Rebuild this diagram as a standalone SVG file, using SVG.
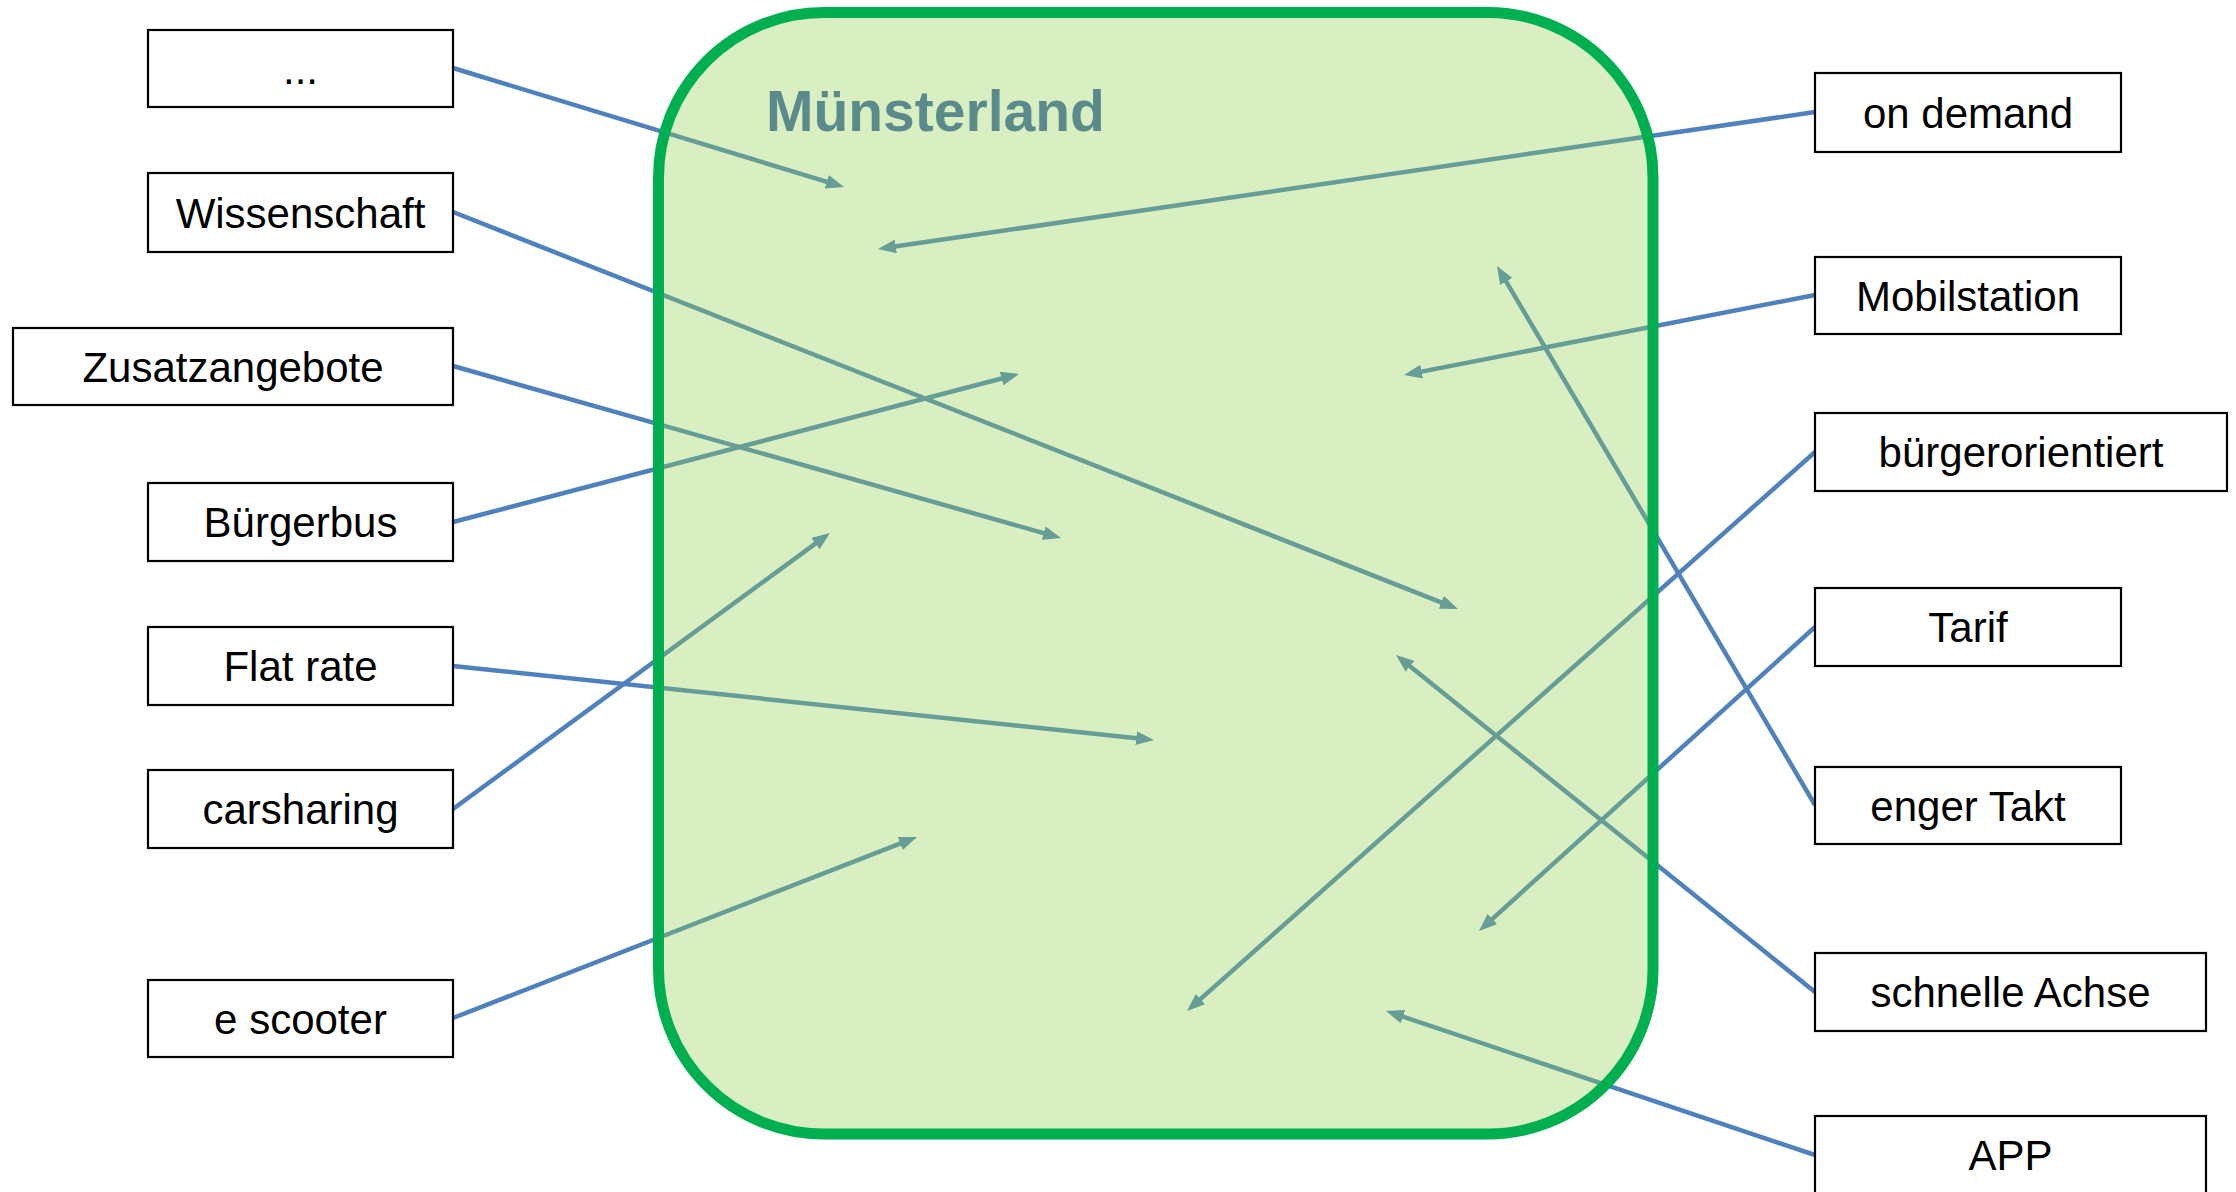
<svg xmlns="http://www.w3.org/2000/svg" width="2236" height="1192" viewBox="0 0 2236 1192">
<style>
.box{fill:#ffffff;stroke:#000000;stroke-width:2.2}
.lbl{font-family:"Liberation Sans",Arial,sans-serif;font-size:42px;fill:#000000;text-anchor:middle}
.con{fill:none;stroke:#4F81BD;stroke-width:4.5;marker-end:url(#arr)}
.title{font-family:"Liberation Sans",Arial,sans-serif;font-size:57px;font-weight:bold;fill:#5B8A8C}
</style>
<defs>
<marker id="arr" viewBox="0 0 18 14" markerWidth="18" markerHeight="14" refX="8" refY="7" orient="auto" markerUnits="userSpaceOnUse">
<path d="M0,0 L18,7 L0,14 z" fill="#4F81BD"/>
</marker>
</defs>
<rect width="2236" height="1192" fill="#ffffff"/>
<g id="connectors">
<line class="con" x1="453" y1="68" x2="834.4" y2="184.1"/>
<line class="con" x1="453" y1="212" x2="1448.7" y2="605.3"/>
<line class="con" x1="453" y1="366" x2="1051.4" y2="535.3"/>
<line class="con" x1="453" y1="522" x2="1009.3" y2="376.5"/>
<line class="con" x1="453" y1="666" x2="1144.1" y2="739"/>
<line class="con" x1="453" y1="809" x2="821.9" y2="538.9"/>
<line class="con" x1="453" y1="1018" x2="907.7" y2="840.6"/>
<line class="con" x1="1815" y1="112" x2="887.9" y2="247.6"/>
<line class="con" x1="1815" y1="295" x2="1413.8" y2="373.1"/>
<line class="con" x1="1815" y1="452" x2="1194.5" y2="1004.4"/>
<line class="con" x1="1815" y1="627" x2="1486.4" y2="924.3"/>
<line class="con" x1="1815" y1="805" x2="1502.1" y2="274.6"/>
<line class="con" x1="1815" y1="992" x2="1403.8" y2="661.3"/>
<line class="con" x1="1815" y1="1155" x2="1395.5" y2="1014.2"/>
</g>
<g id="muensterland">
<rect x="658.5" y="12.5" width="994.5" height="1121.5" rx="165" ry="165" fill="#92D050" fill-opacity="0.35" stroke="#00B050" stroke-width="11"/>
<text class="title" x="766" y="131">Münsterland</text>
</g>
<g id="n-dots"><rect class="box" x="148" y="30" width="305" height="77"/><text class="lbl" x="300.5" y="84">...</text></g>
<g id="n-wissenschaft"><rect class="box" x="148" y="173" width="305" height="79"/><text class="lbl" x="300.5" y="228">Wissenschaft</text></g>
<g id="n-zusatzangebote"><rect class="box" x="13" y="328" width="440" height="77"/><text class="lbl" x="233" y="382">Zusatzangebote</text></g>
<g id="n-buergerbus"><rect class="box" x="148" y="483" width="305" height="78"/><text class="lbl" x="300.5" y="537">Bürgerbus</text></g>
<g id="n-flatrate"><rect class="box" x="148" y="627" width="305" height="78"/><text class="lbl" x="300.5" y="681">Flat rate</text></g>
<g id="n-carsharing"><rect class="box" x="148" y="770" width="305" height="78"/><text class="lbl" x="300.5" y="824">carsharing</text></g>
<g id="n-escooter"><rect class="box" x="148" y="980" width="305" height="77"/><text class="lbl" x="300.5" y="1034">e scooter</text></g>
<g id="n-ondemand"><rect class="box" x="1815" y="73" width="306" height="79"/><text class="lbl" x="1968" y="128">on demand</text></g>
<g id="n-mobilstation"><rect class="box" x="1815" y="257" width="306" height="77"/><text class="lbl" x="1968" y="311">Mobilstation</text></g>
<g id="n-buergerorientiert"><rect class="box" x="1815" y="413" width="412" height="78"/><text class="lbl" x="2021" y="467">bürgerorientiert</text></g>
<g id="n-tarif"><rect class="box" x="1815" y="588" width="306" height="78"/><text class="lbl" x="1968" y="642">Tarif</text></g>
<g id="n-engertakt"><rect class="box" x="1815" y="767" width="306" height="77"/><text class="lbl" x="1968" y="821">enger Takt</text></g>
<g id="n-schnelleachse"><rect class="box" x="1815" y="953" width="391" height="78"/><text class="lbl" x="2010.5" y="1007">schnelle Achse</text></g>
<g id="n-app"><rect class="box" x="1815" y="1116" width="391" height="80"/><text class="lbl" x="2010.5" y="1170">APP</text></g>
</svg>
